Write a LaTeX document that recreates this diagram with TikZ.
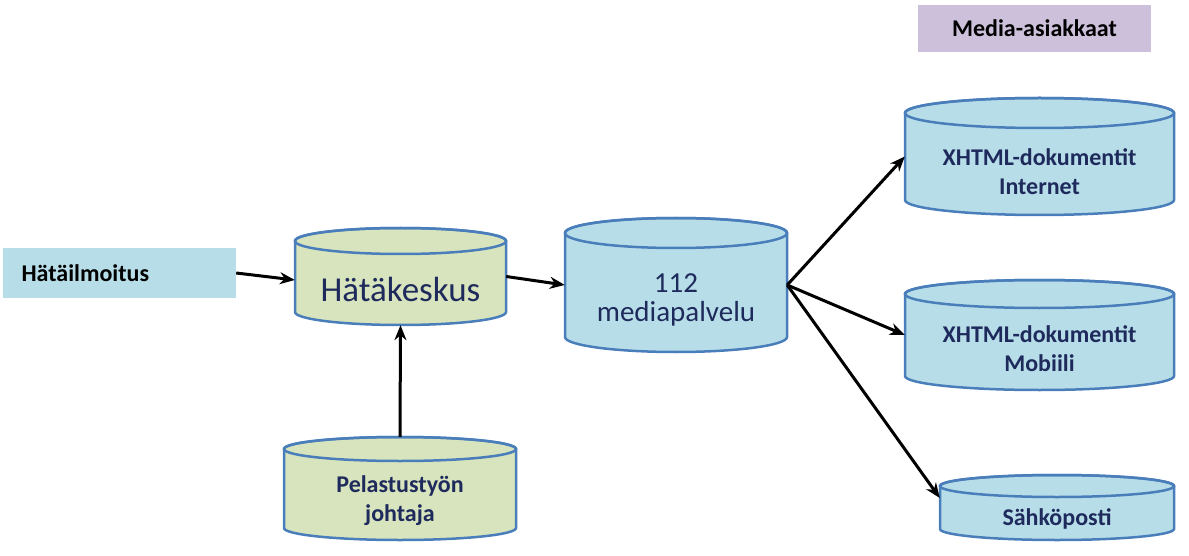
\documentclass[tikz,border=0pt]{standalone}
\usepackage{fontspec}
\setmainfont{Carlito}
\usetikzlibrary{arrows.meta}
\definecolor{cblue}{HTML}{B7DEE8}
\definecolor{cgreen}{HTML}{D7E4BD}
\definecolor{cborder}{HTML}{4A7EBB}
\definecolor{clav}{HTML}{CCC0DA}
\definecolor{ctext}{HTML}{1F2A5C}
\tikzset{cylb/.style={draw=cborder,line width=2.5pt},
 lbl/.style={font=\bfseries\fontsize{24}{29}\selectfont,text=ctext,align=center},
 arr/.style={line width=3pt,-{Stealth[length=15pt,width=12pt]}}}
\newcommand\cylin[8]{%
 \filldraw[cylb,fill=#7] ({#2-#4},{#3+#6}) -- ({#2-#4},{#5-#6}) arc[start angle=180,end angle=0,x radius=#4,y radius=#6] -- ({#2+#4},{#3+#6}) arc[start angle=0,end angle=-180,x radius=#4,y radius=#6] -- cycle;
 \draw[cylb] (#2,{#3+#6}) ellipse[x radius=#4,y radius=#6];
 \node[inner sep=0,minimum width={2*#4},minimum height={#5-#3}] (#1) at (#2,{(#3+#5)/2}) {};
 \node[lbl] at (#2,{(#3+2*#6+#5)/2}) {#8};}
\begin{document}
\begin{tikzpicture}[x=1pt,y=-1pt]
\useasboundingbox (0,0) rectangle (1189,556);
\node[fill=clav,minimum width=233,minimum height=47,inner sep=0,font=\bfseries\fontsize{24}{29}\selectfont] (ma) at (1034.5,28.5) {Media-asiakkaat};
\node[fill=cblue,minimum width=233,minimum height=50,inner sep=0] (hi) at (119.5,273) {};
\node[font=\bfseries\fontsize{24}{29}\selectfont,anchor=west] at (18,273) {Hätäilmoitus};
\cylin{hk}{400.5}{228}{105.5}{325}{13}{cgreen}{\mdseries\fontsize{35}{40}\selectfont Hätäkeskus}
\cylin{mp}{676}{218}{111}{352}{15}{cblue}{\mdseries\fontsize{29}{33}\selectfont 112\\\mdseries\fontsize{29}{33}\selectfont mediapalvelu}
\cylin{xi}{1039.5}{98}{134.5}{215}{15}{cblue}{XHTML-dokumentit\\Internet}
\cylin{xm}{1039.5}{280}{134.5}{390}{14}{cblue}{XHTML-dokumentit\\Mobiili}
\cylin{sp}{1057}{475}{117}{540}{11}{cblue}{Sähköposti}
\cylin{pj}{400}{437}{116}{540}{12}{cgreen}{Pelastustyön\\johtaja}
\draw[arr] (hi.east) -- (hk.west |- 0,280);
\draw[arr] (hk.east) -- (mp.west);
\draw[arr] (pj.north) -- (hk.south);
\draw[arr] (mp.east) -- (xi.west);
\draw[arr] (mp.east) -- (xm.west);
\draw[arr] (mp.east) -- (sp.west |- 0,498);
\end{tikzpicture}
\end{document}
